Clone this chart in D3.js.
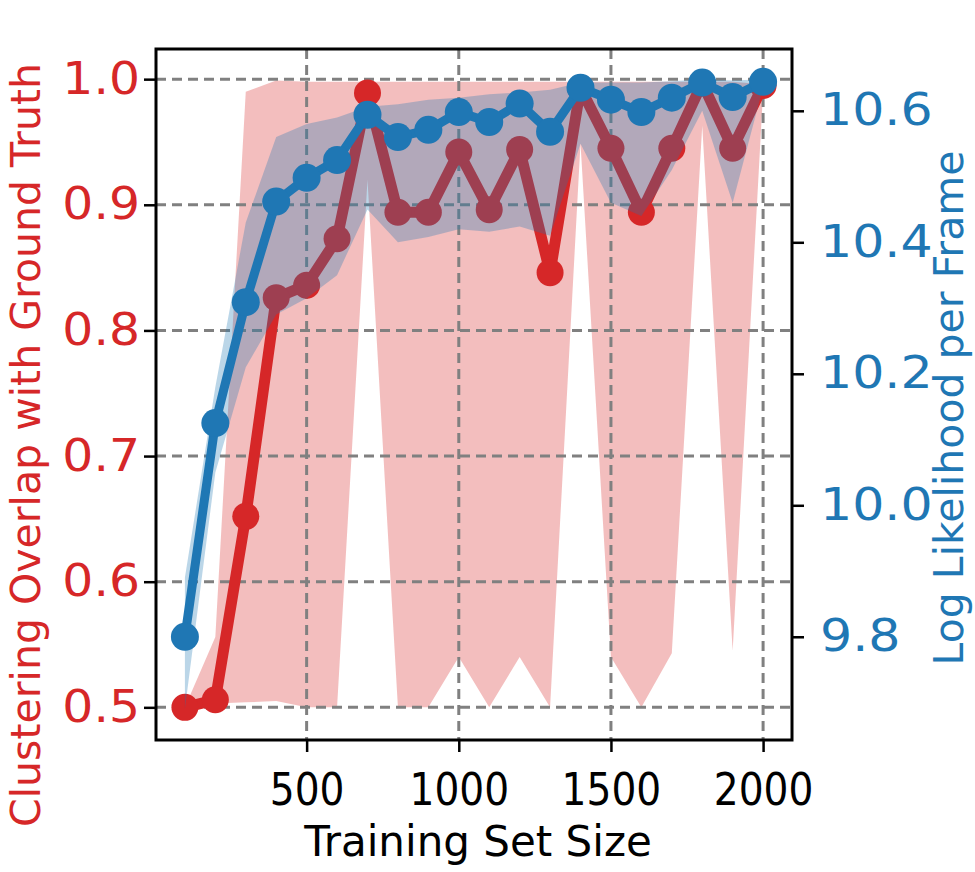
<!DOCTYPE html>
<html>
<head>
<meta charset="utf-8">
<script src="https://cdn.jsdelivr.net/npm/d3@7"></script>
<style>
  body { margin: 0; background: #fff; }
  svg text { font-family: "DejaVu Sans", sans-serif; }
</style>
</head>
<body>
<div id="canvas"></div>
<script>
// training set sizes
var sizes = [100, 200, 300, 400, 500, 600, 700, 800, 900, 1000,
             1100, 1200, 1300, 1400, 1500, 1600, 1700, 1800, 1900, 2000];

// clustering overlap (left axis)
var overlapMean  = [0.500, 0.506, 0.652, 0.826, 0.836, 0.873, 0.989, 0.894, 0.894, 0.942,
                    0.896, 0.944, 0.846, 0.993, 0.945, 0.894, 0.945, 0.997, 0.945, 0.995];
var overlapUpper = [0.500, 0.556, 0.990, 0.999, 0.998, 0.998, 0.998, 0.998, 0.998, 0.998,
                    0.998, 0.998, 0.998, 0.998, 0.998, 0.998, 0.998, 0.998, 0.998, 0.996];
var overlapLower = [0.500, 0.503, 0.504, 0.505, 0.500, 0.500, 0.920, 0.500, 0.500, 0.540,
                    0.500, 0.540, 0.500, 0.949, 0.540, 0.500, 0.543, 0.963, 0.545, 0.990];

// log likelihood per frame (right axis)
var llMean  = [9.800, 10.125, 10.309, 10.462, 10.498, 10.525, 10.594, 10.560, 10.571, 10.598,
               10.583, 10.611, 10.568, 10.635, 10.617, 10.598, 10.620, 10.643, 10.621, 10.644];
var llUpper = [9.890, 10.180, 10.430, 10.560, 10.580, 10.590, 10.606, 10.610, 10.617, 10.620,
               10.625, 10.628, 10.632, 10.643, 10.643, 10.643, 10.645, 10.648, 10.646, 10.648];
var llLower = [9.690, 10.050, 10.210, 10.290, 10.315, 10.350, 10.450, 10.400, 10.408, 10.420,
               10.416, 10.424, 10.410, 10.550, 10.460, 10.440, 10.510, 10.600, 10.460, 10.636];

var xTicks = [500, 1000, 1500, 2000];
var leftTicks = [0.5, 0.6, 0.7, 0.8, 0.9, 1.0];
var rightTicks = [9.8, 10.0, 10.2, 10.4, 10.6];

var RED = '#d62728', BLUE = '#1f77b4';
var LEFT = 156, RIGHT = 792, TOP = 49, BOTTOM = 740;
var FONT = 44;

var svg = d3.select('#canvas').append('svg')
    .attr('width', 975)
    .attr('height', 872);

var x = d3.scaleLinear().domain([5, 2095]).range([LEFT, RIGHT]);
var yL = d3.scaleLinear().domain([0.474, 1.024]).range([BOTTOM, TOP]);
var yR = d3.scaleLinear().domain([9.643, 10.694]).range([BOTTOM, TOP]);

function band(lo, hi, y) {
    return d3.area()
        .x(function(d, i) { return x(sizes[i]); })
        .y0(function(d, i) { return y(lo[i]); })
        .y1(function(d, i) { return y(hi[i]); })(sizes);
}
function line(vals, y) {
    return d3.line()
        .x(function(d, i) { return x(sizes[i]); })
        .y(function(d, i) { return y(vals[i]); })(sizes);
}

// red band
svg.append('path')
    .attr('d', band(overlapLower, overlapUpper, yL))
    .attr('fill', RED)
    .attr('fill-opacity', 0.3);

// grid
var grid = svg.append('g')
    .attr('stroke', '#808080')
    .attr('stroke-width', 3)
    .attr('stroke-dasharray', '10,6');
leftTicks.forEach(function(t) {
    grid.append('line')
        .attr('x1', LEFT).attr('x2', RIGHT)
        .attr('y1', yL(t)).attr('y2', yL(t));
});
xTicks.forEach(function(t) {
    grid.append('line')
        .attr('x1', x(t)).attr('x2', x(t))
        .attr('y1', TOP).attr('y2', BOTTOM);
});

// red line + markers
svg.append('path')
    .attr('d', line(overlapMean, yL))
    .attr('fill', 'none')
    .attr('stroke', RED)
    .attr('stroke-width', 11)
    .attr('stroke-linejoin', 'round');
svg.append('g').selectAll('circle')
    .data(sizes)
    .enter()
    .append('circle')
    .attr('cx', function(d) { return x(d); })
    .attr('cy', function(d, i) { return yL(overlapMean[i]); })
    .attr('r', 13.5)
    .attr('fill', RED);

// blue band
svg.append('path')
    .attr('d', band(llLower, llUpper, yR))
    .attr('fill', BLUE)
    .attr('fill-opacity', 0.3);

// blue line + markers
svg.append('path')
    .attr('d', line(llMean, yR))
    .attr('fill', 'none')
    .attr('stroke', BLUE)
    .attr('stroke-width', 9)
    .attr('stroke-linejoin', 'round');
svg.append('g').selectAll('circle')
    .data(sizes)
    .enter()
    .append('circle')
    .attr('cx', function(d) { return x(d); })
    .attr('cy', function(d, i) { return yR(llMean[i]); })
    .attr('r', 14)
    .attr('fill', BLUE);

// axes; tick labels get a horizontal stretch to match the original's glyph widths
function styleAxis(g, color, sx) {
    g.select('.domain').remove();
    g.selectAll('.tick line').attr('stroke', '#000').attr('stroke-width', 2.5);
    g.selectAll('.tick text')
        .attr('fill', color)
        .style('font-size', FONT + 'px')
        .style('font-family', '"DejaVu Sans", sans-serif')
        .each(function() {
            var t = d3.select(this);
            var tx = +t.attr('x') || 0, ty = +t.attr('y') || 0;
            t.attr('x', 0).attr('y', 0)
                .attr('transform', 'translate(' + tx + ',' + ty + ') scale(' + sx + ',1)');
        });
}

svg.append('g')
    .attr('transform', 'translate(0,' + BOTTOM + ')')
    .call(d3.axisBottom(x).tickValues(xTicks).tickSize(12).tickPadding(22).tickFormat(d3.format('d')))
    .call(styleAxis, '#000', 0.89);

svg.append('g')
    .attr('transform', 'translate(' + LEFT + ',0)')
    .call(d3.axisLeft(yL).tickValues(leftTicks).tickSize(12).tickPadding(4).tickFormat(d3.format('.1f')))
    .call(styleAxis, RED, 1.11);

svg.append('g')
    .attr('transform', 'translate(' + RIGHT + ',0)')
    .call(d3.axisRight(yR).tickValues(rightTicks).tickSize(12).tickPadding(16).tickFormat(d3.format('.1f')))
    .call(styleAxis, BLUE, 1.15);

// frame
svg.append('rect')
    .attr('x', LEFT).attr('y', TOP)
    .attr('width', RIGHT - LEFT).attr('height', BOTTOM - TOP)
    .attr('fill', 'none')
    .attr('stroke', '#000')
    .attr('stroke-width', 3);

// titles
svg.append('text')
    .attr('x', 478)
    .attr('y', 856)
    .attr('text-anchor', 'middle')
    .style('font-size', '42px')
    .attr('fill', '#000')
    .text('Training Set Size');

svg.append('text')
    .attr('transform', 'translate(40,445) rotate(-90)')
    .attr('text-anchor', 'middle')
    .style('font-size', '41px')
    .attr('fill', RED)
    .text('Clustering Overlap with Ground Truth');

svg.append('text')
    .attr('transform', 'translate(963,408) rotate(-90)')
    .attr('text-anchor', 'middle')
    .style('font-size', '41px')
    .attr('fill', BLUE)
    .text('Log Likelihood per Frame');
</script>
</body>
</html>
